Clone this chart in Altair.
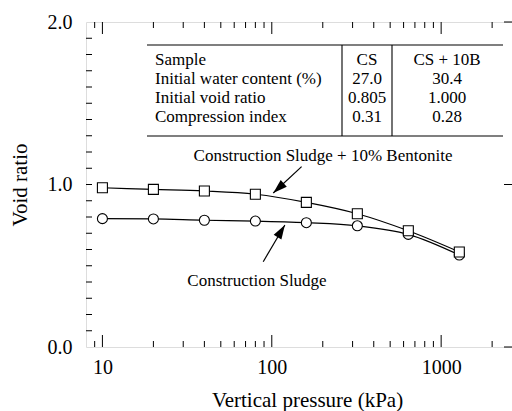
import altair as alt
import pandas as pd

# ---- data ----
pressure = [10, 20, 40, 80, 160, 320, 640, 1280]
void_cs = [0.790, 0.788, 0.780, 0.775, 0.765, 0.746, 0.693, 0.566]
void_cs10b = [0.980, 0.970, 0.960, 0.940, 0.890, 0.820, 0.715, 0.585]

x_major = [10, 100, 1000]
x_minor = [9, 20, 30, 40, 50, 60, 70, 80, 90,
           200, 300, 400, 500, 600, 700, 800, 900, 2000]
y_major = [0.0, 1.0, 2.0]
y_minor = [0.1, 0.2, 0.3, 0.4, 0.5, 0.6, 0.7, 0.8, 0.9, 1.0,
           1.1, 1.2, 1.3, 1.4, 1.5, 1.6, 1.7, 1.8, 1.9]

table_labels = ["Sample", "Initial water content (%)", "Initial void ratio", "Compression index"]
table_cs = ["CS", "27.0", "0.805", "0.31"]
table_cs10b = ["CS + 10B", "30.4", "1.000", "0.28"]

label_top = "Construction Sludge + 10% Bentonite"
label_bottom = "Construction Sludge"

# ---- layout ----
W, H = 426, 325
FONT = "Liberation Serif"

xs = alt.Scale(type="log", domain=[8, 2620], nice=False)
ys = alt.Scale(domain=[0, 2], nice=False, zero=False)

x_axis = alt.Axis(
    values=x_major, format="d", ticks=False, domain=False, grid=False,
    labelFont=FONT, labelFontSize=20, labelColor="black", labelPadding=10,
    title="Vertical pressure (kPa)", titleFont=FONT, titleFontSize=21,
    titleFontWeight="normal", titleColor="black", titlePadding=12, titleX=221)
y_axis = alt.Axis(
    values=y_major, format=".1f", ticks=False, domain=False, grid=False,
    labelFont=FONT, labelFontSize=20, labelColor="black", labelPadding=14,
    title="Void ratio", titleFont=FONT, titleFontSize=21,
    titleFontWeight="normal", titleColor="black", titlePadding=17)


def X(field):
    return alt.X(field, scale=xs, axis=x_axis, title="Vertical pressure (kPa)")


def Y(field):
    return alt.Y(field, scale=ys, axis=y_axis, title="Void ratio")


df_cs = pd.DataFrame({"p": pressure, "e": void_cs})
df_b = pd.DataFrame({"p": pressure, "e": void_cs10b})

line_cs = alt.Chart(df_cs).mark_line(color="black", strokeWidth=1.2, interpolate="monotone").encode(
    x=X("p:Q"), y=Y("e:Q"))
line_b = alt.Chart(df_b).mark_line(color="black", strokeWidth=1.2, interpolate="monotone").encode(
    x=X("p:Q"), y=Y("e:Q"))
pts_cs = alt.Chart(df_cs).mark_point(shape="circle", size=100, filled=True, fill="white",
                                     stroke="black", strokeWidth=1.1, opacity=1).encode(
    x=X("p:Q"), y=Y("e:Q"))
pts_b = alt.Chart(df_b).mark_point(shape="square", size=100, filled=True, fill="white",
                                   stroke="black", strokeWidth=1.1, opacity=1).encode(
    x=X("p:Q"), y=Y("e:Q"))


# ---- inward ticks ----
def xticks(vals, y0, y1):
    return alt.Chart(pd.DataFrame({"p": vals})).mark_rule(color="black", strokeWidth=1).encode(
        x=X("p:Q"), y=alt.value(y0), y2=alt.value(y1))


def yticks(vals, x0, x1):
    return alt.Chart(pd.DataFrame({"e": vals})).mark_rule(color="black", strokeWidth=1).encode(
        y=Y("e:Q"), x=alt.value(x0), x2=alt.value(x1))


tick_layers = [
    xticks(x_major, H, H - 12), xticks(x_minor, H, H - 6),
    xticks(x_major, 0, 12), xticks(x_minor, 0, 6),
    yticks(y_minor, 0, 6), yticks(y_major, W, W - 8),
]

# ---- inset table (pixel layout inside plot area) ----
row_y = [38, 57, 76, 95]
tab_top, tab_bot = 23, 114
tab_left, tab_right = 61, 417
col_div = [256, 306]

hlines = alt.Chart(pd.DataFrame({"x": [tab_left, tab_left], "x2": [tab_right, tab_right],
                                 "y": [tab_top, tab_bot]})).mark_rule(color="black", strokeWidth=1.1).encode(
    x=alt.X("x:Q", scale=None), x2="x2:Q", y=alt.Y("y:Q", scale=None))
vlines = alt.Chart(pd.DataFrame({"x": col_div, "y": [tab_top] * 2, "y2": [tab_bot] * 2})).mark_rule(
    color="black", strokeWidth=1.1).encode(
    x=alt.X("x:Q", scale=None), y=alt.Y("y:Q", scale=None), y2="y2:Q")

df_tab = pd.DataFrame({"a": table_labels, "b": table_cs, "c": table_cs10b, "y": row_y})
txt_kw = dict(font=FONT, fontSize=17, color="black", baseline="middle")
t1 = alt.Chart(df_tab).mark_text(align="left", **txt_kw).encode(
    x=alt.value(69), y=alt.Y("y:Q", scale=None), text="a:N")
t2 = alt.Chart(df_tab).mark_text(align="center", **txt_kw).encode(
    x=alt.value(281), y=alt.Y("y:Q", scale=None), text="b:N")
t3 = alt.Chart(df_tab).mark_text(align="center", **txt_kw).encode(
    x=alt.value(361), y=alt.Y("y:Q", scale=None), text="c:N")

# ---- curve labels and arrows ----
lab_top = alt.Chart(pd.DataFrame({"t": [label_top]})).mark_text(align="center", **txt_kw).encode(
    x=alt.value(237), y=alt.value(134), text="t:N")
lab_bot = alt.Chart(pd.DataFrame({"t": [label_bottom]})).mark_text(align="center", **txt_kw).encode(
    x=alt.value(171), y=alt.value(259), text="t:N")

arrow_df = pd.DataFrame({
    "id": ["a", "a", "b", "b"],
    "p": [150, 102, 89, 119.5],
    "e": [1.11, 0.948, 0.525, 0.751],
    "o": [0, 1, 0, 1],
})
shafts = alt.Chart(arrow_df).mark_line(color="black", strokeWidth=1.2).encode(
    x=X("p:Q"), y=Y("e:Q"), detail="id:N", order="o:Q")
heads_df = pd.DataFrame({"p": [102, 119.5], "e": [0.948, 0.751], "ang": [227.5, 31]})
heads = alt.Chart(heads_df).mark_point(shape="M0,0L0.6,1.9L-0.6,1.9Z", size=225, filled=True,
                                        color="black", opacity=1).encode(
    x=X("p:Q"), y=Y("e:Q"), angle=alt.Angle("ang:Q", scale=None))

chart = alt.layer(
    line_cs, line_b, pts_cs, pts_b, *tick_layers,
    hlines, vlines, t1, t2, t3, lab_top, lab_bot, shafts, heads
).properties(
    width=W, height=H,
    autosize=alt.AutoSizeParams(type="none"),
    padding={"left": 86, "top": 22, "right": 0, "bottom": 64},
).configure_view(stroke="black", strokeWidth=1.2).configure(background="white")

chart.save("out.html", embed_options={"renderer": "svg", "actions": False})
